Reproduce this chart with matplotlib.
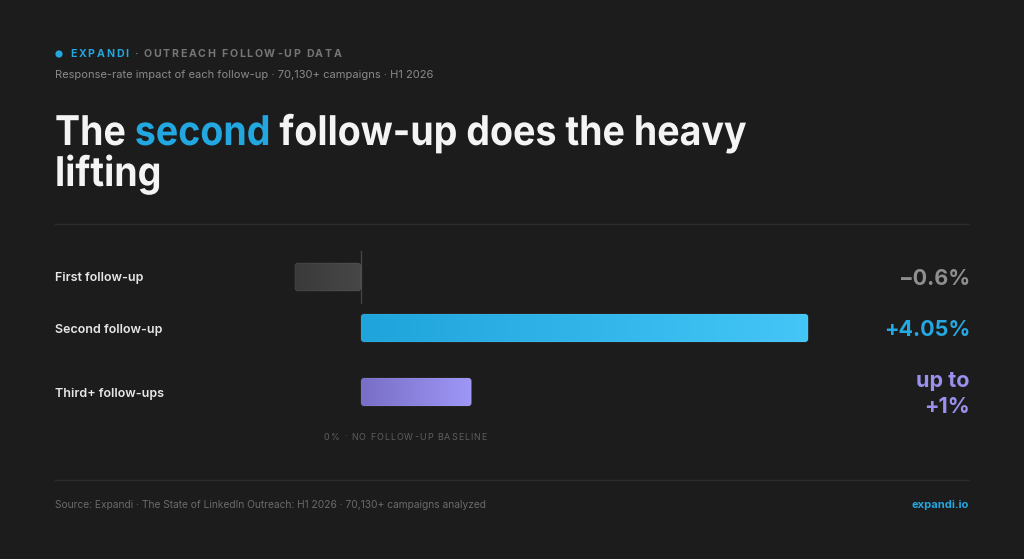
import numpy as np
import matplotlib
matplotlib.use("Agg")
import matplotlib.pyplot as plt
from matplotlib.patches import FancyBboxPatch, Circle, PathPatch
from matplotlib.colors import LinearSegmentedColormap
from matplotlib.textpath import TextPath
from matplotlib.font_manager import FontProperties
from matplotlib.transforms import Affine2D

plt.rcParams['font.family'] = ['Inter', 'DejaVu Sans']

# data
categories = ["First follow-up", "Second follow-up", "Third+ follow-ups"]
lift = [-0.6, 4.05, 1.0]
value_labels = ["\u22120.6%", "+4.05%", "up to\n+1%"]

# styles
BG = "#1c1c1c"
BLUE = "#22a7e0"
WHITE = "#f4f4f4"
bar_colors = [("#3a3a3a", "#474747"), ("#1fa4db", "#44c6f7"), ("#786ec6", "#9f97f7")]
value_colors = ["#8f8f8f", "#25a8e0", "#9a90ee"]

W, H = 1024, 559
row_y = [277, 328, 392]
bar_h = 28
zero_px = 361
px_per_pct = 110.4

fig = plt.figure(figsize=(W / 100, H / 100), dpi=100, facecolor=BG)
renderer = fig.canvas.get_renderer()

# pixel canvas for text, origin at top-left
cv = fig.add_axes([0, 0, 1, 1])
cv.set_xlim(0, W)
cv.set_ylim(H, 0)
cv.axis('off')
cv.patch.set_alpha(0)

# bar axes: x in %, y in pixels
ax = fig.add_axes([0, 0, 1, 1])
xlim = (-zero_px / px_per_pct, (W - zero_px) / px_per_pct)
ax.axis('off')
ax.patch.set_alpha(0)


def width_of(t):
    return t.get_window_extent(renderer).width


def space_w(**kw):
    a = cv.text(0, 0, "I I", **kw)
    b = cv.text(0, 0, "II", **kw)
    w = width_of(a) - width_of(b)
    a.remove()
    b.remove()
    return w


def tracked(x, y, s, track, **kw):
    sp = space_w(**kw)
    for ch in s:
        if ch == " ":
            x += sp + track
            continue
        t = cv.text(x, y, ch, **kw)
        x += width_of(t) + track
    return x


# header
cv.add_patch(Circle((59, 54), 3.6, color=BLUE, lw=0))
x = tracked(70, 54, "EXPANDI", 1.75, fontsize=7.6, fontweight='bold', color=BLUE, va='center')
tracked(x + 4, 54, "\u00b7 OUTREACH FOLLOW-UP DATA", 1.7, fontsize=7.6, fontweight='bold',
        color="#767676", va='center')
cv.text(55, 75, "Response-rate impact of each follow-up \u00b7 70,130+ campaigns \u00b7 H1 2026",
        fontsize=8, color="#8a8a8a", va='center')

# title drawn as paths so it can be set a little condensed
fp = FontProperties(family='Inter', weight='bold')
tsize = 41
pieces = [("The", WHITE), ("second", BLUE), ("follow-up does the heavy", WHITE)]
full = " ".join(p for p, _ in pieces)
full_w = TextPath((0, 0), full, size=tsize, prop=fp).get_extents().x1
sx = (746 - 55) / full_w


def draw_path(s, x, y, color):
    path = TextPath((0, 0), s, size=tsize, prop=fp)
    tr = Affine2D().scale(sx, -1).translate(x, y) + cv.transData
    cv.add_patch(PathPatch(path, transform=tr, fc=color, lw=0))


prefix = ""
for s, col in pieces:
    with_prefix = TextPath((0, 0), prefix + s, size=tsize, prop=fp).get_extents().x1
    alone = TextPath((0, 0), s, size=tsize, prop=fp).get_extents().x1
    draw_path(s, 55 + (with_prefix - alone) * sx, 145, col)
    prefix += s + " "
draw_path("lifting", 55, 186, WHITE)

# dividers
cv.plot([55, 969], [224, 224], color="#2c2c2c", lw=1)
cv.plot([55, 969], [480, 480], color="#2c2c2c", lw=1)

# bars with horizontal gradients
grad = np.linspace(0, 1, 256)[None, :]
for i, (v, y) in enumerate(zip(lift, row_y)):
    x0 = min(0, v)
    w = abs(v)
    patch = FancyBboxPatch((x0, y - bar_h / 2), w, bar_h,
                           boxstyle="round,pad=0,rounding_size=%f" % (3 / px_per_pct),
                           mutation_aspect=px_per_pct,
                           fc='none', ec=(1, 1, 1, 0.07), lw=0.8, zorder=3)
    ax.add_patch(patch)
    cmap = LinearSegmentedColormap.from_list("bar%d" % i, bar_colors[i])
    im = ax.imshow(grad, cmap=cmap, extent=(x0, x0 + w, y + bar_h / 2, y - bar_h / 2),
                   aspect='auto', interpolation='bicubic', zorder=2)
    im.set_clip_path(patch)

ax.plot([0, 0], [251, 303], color="#444444", lw=1, zorder=1)
ax.set_xlim(*xlim)
ax.set_ylim(H, 0)

# row labels and values
for cat, y, lab, col in zip(categories, row_y, value_labels, value_colors):
    cv.text(55, y + 1.5, cat, fontsize=9.0, fontweight='semibold', color="#e6e6e6", va='center')
    cv.text(970, y + 2, lab, fontsize=15.5, fontweight='bold', color=col, va='center',
            ha='right', linespacing=1.4)

tracked(324, 437, "0% \u00b7 NO FOLLOW-UP BASELINE", 1.0, fontsize=6.5, color="#5e5e5e", va='center')

# footer
cv.text(55, 505, "Source: Expandi \u00b7 The State of LinkedIn Outreach: H1 2026 \u00b7 70,130+ campaigns analyzed",
        fontsize=7.35, color="#6a6a6a", va='center')
cv.text(969, 505, "expandi.io", fontsize=8, fontweight='bold', color=BLUE, va='center', ha='right')

fig.savefig("out.png", dpi=100, facecolor=BG)
